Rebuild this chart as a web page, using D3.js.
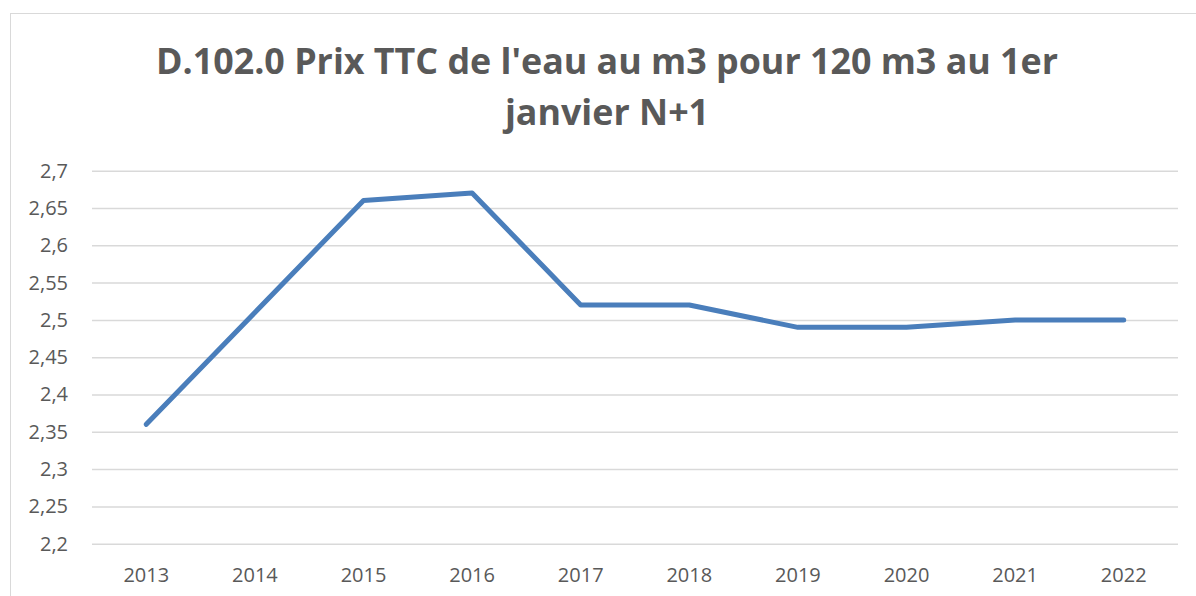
<!DOCTYPE html>
<html><head><meta charset="utf-8">
<script src="https://cdn.jsdelivr.net/npm/d3@7"></script>
<style>body{margin:0;background:#fff}svg{display:block}</style>
</head><body>
<svg id="c" width="1196" height="596"></svg>
<script>
const years = ["2013","2014","2015","2016","2017","2018","2019","2020","2021","2022"];
const prices = [2.36, 2.51, 2.66, 2.67, 2.52, 2.52, 2.49, 2.49, 2.50, 2.50];
const yTicks = [2.2, 2.25, 2.3, 2.35, 2.4, 2.45, 2.5, 2.55, 2.6, 2.65, 2.7];
const titleLines = ["D.102.0 Prix TTC de l'eau au m3 pour 120 m3 au 1er", "janvier N+1"];

const svg = d3.select("#c");
const W = 1196, H = 596;
const m = {left: 92, right: 1178, top: 170.7, bottom: 543.7};
const FONT = "'Open Sans', 'Noto Sans', sans-serif";

// chart border
svg.append("rect").attr("x", 10.5).attr("y", 13.5).attr("width", W).attr("height", H)
  .attr("fill", "none").attr("stroke", "#d9d9d9").attr("stroke-width", 1);

const x = d3.scaleBand().domain(years).range([m.left, m.right]);
const y = d3.scaleLinear().domain([2.2, 2.7]).range([m.bottom, m.top]);

const fmt = d => d3.format("")(d).replace(".", ",");

// gridlines + y labels
const yAxis = d3.axisLeft(y).tickValues(yTicks).tickFormat(fmt)
  .tickSize(-(m.right - m.left)).tickPadding(24);
const gy = svg.append("g").attr("transform", `translate(${m.left},0)`).call(yAxis);
gy.select(".domain").remove();
gy.selectAll(".tick line").attr("stroke", "#d9d9d9").attr("stroke-width", 1.5);
gy.selectAll(".tick text").attr("fill", "#595959")
  .style("font-family", FONT).style("font-size", "20px");

// x labels
const xAxis = d3.axisBottom(x).tickSize(0).tickPadding(24);
const gx = svg.append("g").attr("transform", `translate(0,${m.bottom})`).call(xAxis);
gx.select(".domain").remove();
gx.selectAll(".tick text").attr("fill", "#595959")
  .style("font-family", FONT).style("font-size", "20px");

// line
const line = d3.line().x((d, i) => x(years[i]) + x.bandwidth() / 2).y(d => y(d));
svg.append("path").datum(prices).attr("d", line)
  .attr("fill", "none").attr("stroke", "#4A7EBB").attr("stroke-width", 5)
  .attr("stroke-linejoin", "round").attr("stroke-linecap", "round");

// title
const t = svg.append("text").attr("text-anchor", "middle")
  .attr("fill", "#595959").style("font-family", FONT)
  .style("font-weight", "bold").style("font-size", "36px");
t.selectAll("tspan").data(titleLines).enter().append("tspan")
  .attr("x", 607).attr("y", (d, i) => 73.5 + i * 51.5).text(d => d);
const first = t.select("tspan").node();
const len = first.getComputedTextLength();
const target = 902;
t.selectAll("tspan").each(function() {
  const l = this.getComputedTextLength();
  d3.select(this).attr("textLength", l * target / len).attr("lengthAdjust", "spacingAndGlyphs");
});
</script>
</body></html>
